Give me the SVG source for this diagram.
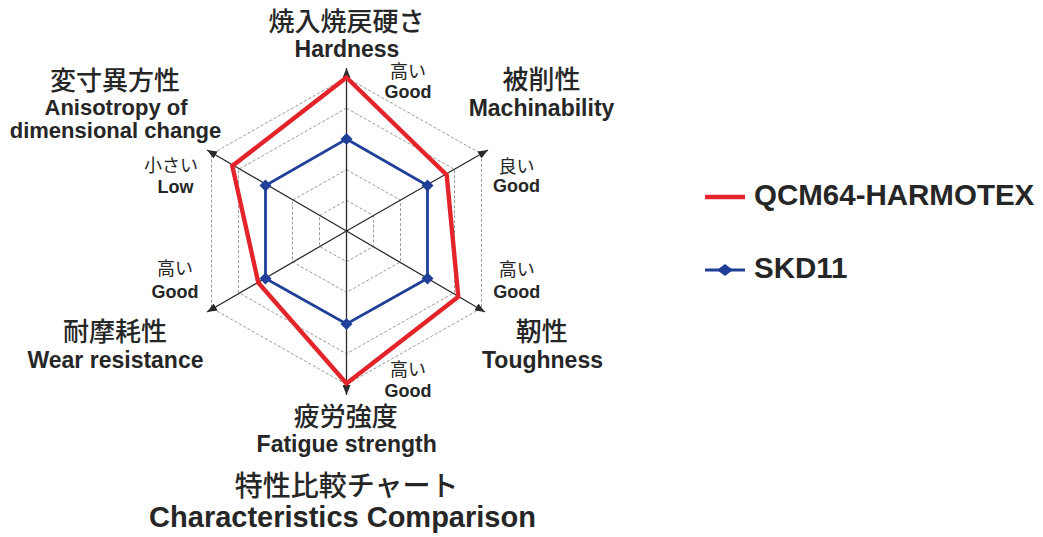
<svg xmlns="http://www.w3.org/2000/svg" width="1043" height="537" viewBox="0 0 1043 537">
<style>
text{fill:#262626;text-anchor:middle}
.ja{font-family:"Noto Sans CJK JP","Noto Sans CJK SC",sans-serif;font-weight:500;font-size:26px}
.en{font-family:"Liberation Sans",Arial,sans-serif;font-weight:bold;font-size:23px}
.en2{font-family:"Liberation Sans",Arial,sans-serif;font-weight:bold;font-size:22px}
.sja{font-family:"Noto Sans CJK JP","Noto Sans CJK SC",sans-serif;font-weight:400;font-size:18px}
.sen{font-family:"Liberation Sans",Arial,sans-serif;font-weight:bold;font-size:18px}
.tja{font-family:"Noto Sans CJK JP","Noto Sans CJK SC",sans-serif;font-weight:500;font-size:28px}
.ten{font-family:"Liberation Sans",Arial,sans-serif;font-weight:bold;font-size:29px}
.lg{font-family:"Liberation Sans",Arial,sans-serif;font-weight:bold;font-size:29.5px;text-anchor:start}
.grid{fill:none;stroke:#9a9a9a;stroke-width:1;stroke-dasharray:3 2}
.axis{stroke:#2a2a2a;stroke-width:1.3;marker-end:url(#arr)}
.red{fill:none;stroke:#e3242b;stroke-width:4.4;stroke-linejoin:miter}
.blue{fill:none;stroke:#1f3f98;stroke-width:2.8}
.dia{fill:#1f3f98}
</style>
<defs>
<marker id="arr" markerUnits="userSpaceOnUse" markerWidth="11" markerHeight="8" refX="10" refY="4" orient="auto">
<path d="M0,0 L10,4 L0,8 z" fill="#2a2a2a"/>
</marker>
<path id="d" d="M0,-6 L6,0 L0,6 L-6,0 z"/>
</defs>
<g id="grid">
<polygon class="grid" points="346.5,200.3 373.5,215.6 373.5,246.4 346.5,261.7 319.5,246.4 319.5,215.6"/>
<polygon class="grid" points="346.5,169.6 400.5,200.2 400.5,261.8 346.5,292.4 292.5,261.8 292.5,200.2"/>
<polygon class="grid" points="346.5,138.9 427.5,184.8 427.5,277.2 346.5,323.1 265.5,277.2 265.5,184.8"/>
<polygon class="grid" points="346.5,108.2 454.5,169.4 454.5,292.6 346.5,353.8 238.5,292.6 238.5,169.4"/>
<polygon class="grid" points="346.5,77.5 481.5,154 481.5,308 346.5,384.5 211.5,308 211.5,154"/>
</g>
<g id="connectors">
<line class="axis" x1="346.5" y1="231" x2="346.5" y2="68"/>
<line class="axis" x1="346.5" y1="231" x2="488" y2="150"/>
<line class="axis" x1="346.5" y1="231" x2="485" y2="312"/>
<line class="axis" x1="346.5" y1="231" x2="346.5" y2="395"/>
<line class="axis" x1="346.5" y1="231" x2="207" y2="312"/>
<line class="axis" x1="346.5" y1="231" x2="207" y2="150"/>
</g>
<g id="series-qcm64">
<polygon class="red" points="346.5,77.5 446.7,175 458.3,296.7 346.5,383.5 258.3,282.7 232.3,166"/>
</g>
<g id="series-skd11">
<polygon class="blue" points="346.5,139 427.5,185.5 427.5,278.5 346.5,324 265.5,278.5 265.5,185.5"/>
<use href="#d" class="dia" x="346.5" y="139"/>
<use href="#d" class="dia" x="427.5" y="185.5"/>
<use href="#d" class="dia" x="427.5" y="278.5"/>
<use href="#d" class="dia" x="346.5" y="324"/>
<use href="#d" class="dia" x="265.5" y="278.5"/>
<use href="#d" class="dia" x="265.5" y="185.5"/>
</g>
<g id="label-hardness">
<text class="ja" x="346.5" y="31">焼入焼戻硬さ</text>
<text class="en" x="347" y="57">Hardness</text>
<text class="sja" x="408" y="78">高い</text>
<text class="sen" x="408" y="98">Good</text>
</g>
<g id="label-machinability">
<text class="ja" x="541.5" y="89">被削性</text>
<text class="en" x="541.5" y="116">Machinability</text>
<text class="sja" x="516.5" y="173">良い</text>
<text class="sen" x="516.5" y="192">Good</text>
</g>
<g id="label-toughness">
<text class="sja" x="516.7" y="276">高い</text>
<text class="sen" x="516.7" y="298">Good</text>
<text class="ja" x="541.7" y="341">靭性</text>
<text class="en" x="542.5" y="368">Toughness</text>
</g>
<g id="label-fatigue">
<text class="sja" x="408" y="376">高い</text>
<text class="sen" x="408" y="397">Good</text>
<text class="ja" x="345.8" y="426">疲労強度</text>
<text class="en" x="346.7" y="452">Fatigue strength</text>
</g>
<g id="label-wear">
<text class="sja" x="175" y="275">高い</text>
<text class="sen" x="175" y="298">Good</text>
<text class="ja" x="115" y="341">耐摩耗性</text>
<text class="en" x="115.5" y="368">Wear resistance</text>
</g>
<g id="label-anisotropy">
<text class="ja" x="115" y="90">変寸異方性</text>
<text class="en2" x="116" y="115">Anisotropy of</text>
<text class="en2" x="115.5" y="138">dimensional change</text>
<text class="sja" x="171" y="172">小さい</text>
<text class="sen" x="175.5" y="193">Low</text>
</g>
<g id="title">
<text class="tja" x="346.7" y="496">特性比較チャート</text>
<text class="ten" x="342.5" y="527">Characteristics Comparison</text>
</g>
<g id="legend">
<line x1="705" y1="197" x2="745" y2="197" stroke="#e3242b" stroke-width="4.5"/>
<text class="lg" x="754" y="205">QCM64-HARMOTEX</text>
<line x1="705" y1="270" x2="745" y2="270" stroke="#1f3f98" stroke-width="3"/>
<path d="M725,264 L733,270 L725,276 L717,270 z" class="dia"/>
<text class="lg" x="754" y="278">SKD11</text>
</g>
</svg>
